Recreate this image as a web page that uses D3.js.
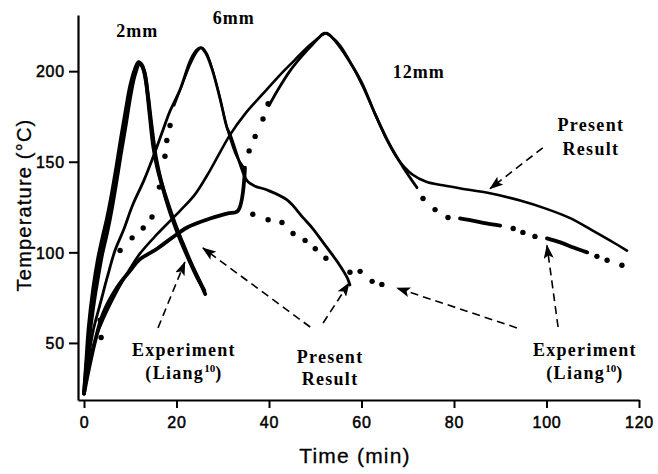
<!DOCTYPE html>
<html>
<head>
<meta charset="utf-8">
<script src="https://cdn.jsdelivr.net/npm/d3@7"></script>
<style>
  html, body { margin: 0; padding: 0; background: #fff; }
  svg { display: block; }
</style>
</head>
<body>
<svg id="chart" width="658" height="474"></svg>
<script>
// ---------------- data (time in min, temperature in °C) ----------------
const timeTicks = [0, 20, 40, 60, 80, 100, 120];
const tempTicks = [50, 100, 150, 200];

// 2 mm plate
const present2mm = [[0,22],[0.5,40],[1,58],[2,80],[3,96],[4,108],[5,119],[6,132],[7,147],[8,163],[9,178],[10,192],[11,201],[11.8,205],[12.6,203],[13.4,194],[14.2,176],[15,158],[16,145],[17.5,132],[19.5,117],[21.5,104],[23.5,92],[25,84],[26.2,77]];
const experiment2mm = [[0,22],[1,50],[2,70],[3,86],[4,100],[5,111],[6,124],[7,139],[8,155],[9,170],[10,186],[11,198],[12,204],[13,200],[13.8,187],[14.6,170],[15.5,153],[16.8,138],[18.5,123],[20.5,109],[22.5,97],[24.5,86],[26,79]];

// 6 mm plate
const present6mm = [[0,22],[1,42],[2,57],[3.7,73.5],[5,86],[6.7,101],[8.5,112],[10.5,126],[13,140],[15,153],[17,167],[18.6,178],[20.8,190],[23,206],[24.3,211.5],[25.2,213],[26.3,210],[27.7,201],[29.4,185],[30.9,169],[31.6,165],[33.7,149],[34.8,141.5],[35.5,138.8],[37,136.5],[39.6,134.4],[43.9,128.9],[47.4,119],[49.5,113],[52.5,102.7],[55,94],[56.9,86],[57.5,82]];
const experiment6mmLine = [[19.5,181],[21,191],[23,204],[24.5,211],[25.5,213],[26.5,210],[28,199],[29.5,184],[31,168],[33,153],[34.8,146]];
const experiment6mmDots = [[3.7,53],[3.5,62.6],[7.8,101],[10.4,108],[12.8,113.4],[14.7,119.5],[16.3,136],[17.5,153],[17.9,161.7],[18.6,170],
  [36.5,121],[39.8,118],[42.8,116.5],[45.2,110.4],[47.8,106.6],[50,102],[52.3,96.7],[57.5,89],[59.7,89.5],[62.3,84],[64.4,82.3]];

// 12 mm plate
const present12mm = [[0,22],[1,38],[3,56],[5.8,72],[9,87],[12,99],[15.8,110],[20.8,123],[24,132],[27.2,145],[31.6,165],[35,177],[38.5,187],[42.4,198],[45.5,206],[48.2,213],[50.5,218],[52,221],[53.5,219],[55.4,214],[58,203],[60.4,191],[63,176],[65.5,162],[68,151],[71,143],[74,139],[77.6,137],[82,135],[87,133],[94.3,128.6],[100,124],[105,119],[110,112],[113.7,106.6],[117.4,101]];
const experiment12mmRise = [[0,22],[1,35],[2.5,52],[4.1,66],[7,80],[10,90],[12,96],[15.8,102],[19,108],[22.3,113.7],[26.5,118],[30.9,121.4],[33.3,123],[34.8,146.7]];
const experiment12mmPeak = [[40,181],[42,190],[44.5,200],[47,208],[49.5,215],[51.5,220],[52.5,221],[54.5,216],[57,207],[60,194],[63,176],[66,160],[69,147],[72,135.7]];
const experiment12mmTail1 = [[81.3,118.7],[84,117.5],[87,116],[90,114.8]];
const experiment12mmTail2 = [[100.1,107.7],[103,105.5],[106,102.5],[108.8,100]];
const experiment12mmDots = [[35.7,156],[37,164],[38.7,173.6],[39.8,182],[73.3,129.7],[75.9,123.6],[78.7,119.2],[92.8,113.2],[94.9,111],[97.5,108.8],[110.9,97.8],[113.1,95.6],[116.3,92.9]];

// annotation labels: [text, time, temp]
const plateLabels = [["2mm", 11.5, 218.8], ["6mm", 32.4, 226], ["12mm", 72.4, 196.2]];
const noteLabels = [
  ["Present", 109.6, 167], ["Result", 109.6, 153.7],
  ["Experiment", 21.6, 42.8], ["(Liang", 21.6, 30.1, "10", ")"],
  ["Present", 53.2, 38.9], ["Result", 53.2, 26.8],
  ["Experiment", 108.3, 42.8], ["(Liang", 108.3, 30.1, "10", ")"]
];
// arrows: [fromTime, fromTemp, toTime, toTemp]
const arrows = [
  [99.2, 157.7, 87.8, 135.2],
  [102.5, 58.8, 100.1, 103.8],
  [93.6, 58.3, 67.7, 80.3],
  [48.9, 58.8, 25.7, 102.4],
  [51.7, 61, 57.3, 83],
  [16, 58.3, 21.8, 94.6]
];

// ---------------- drawing ----------------
const svg = d3.select("#chart");
svg.append("rect").attr("width", 658).attr("height", 474).attr("fill", "#fff");

const x = d3.scaleLinear().domain([-1.3, 120]).range([78, 639]);
const y = d3.scaleLinear().domain([18.5, 231]).range([400, 15]);

const line = d3.line().x(d => x(d[0])).y(d => y(d[1])).curve(d3.curveCatmullRom.alpha(0.5));

function drawLine(data, w) {
  svg.append("path").datum(data).attr("d", line)
    .attr("fill", "none").attr("stroke", "#000").attr("stroke-width", w)
    .attr("stroke-linejoin", "round").attr("stroke-linecap", "round");
}
function drawDots(data, r) {
  svg.append("g").selectAll("circle").data(data).join("circle")
    .attr("cx", d => x(d[0])).attr("cy", d => y(d[1])).attr("r", r).attr("fill", "#000");
}

drawLine(present2mm, 3.8);
drawLine(experiment2mm, 3.8);
drawLine(present6mm, 2.8);
drawLine(experiment6mmLine, 2.2);
drawDots(experiment6mmDots, 2.7);
drawLine(present12mm, 2.6);
drawLine(experiment12mmRise, 3.8);
drawLine(experiment12mmPeak, 2.8);
drawLine(experiment12mmTail1, 3.8);
drawLine(experiment12mmTail2, 3.8);
drawDots(experiment12mmDots, 2.7);

// axes
const xAxis = d3.axisBottom(x).tickValues(timeTicks).tickSize(8).tickSizeOuter(0).tickFormat(d3.format("d"));
const gx = svg.append("g").attr("transform", `translate(0,${y(18.5)})`).call(xAxis);
const yAxis = d3.axisLeft(y).tickValues(tempTicks).tickSize(9).tickSizeOuter(0).tickFormat(d3.format("d"));
const gy = svg.append("g").attr("transform", `translate(${x(-1.3)},0)`).call(yAxis);

[gx, gy].forEach(g => {
  g.select(".domain").attr("stroke", "#000").attr("stroke-width", 2.2);
  g.selectAll(".tick line").attr("stroke", "#000").attr("stroke-width", 2);
  g.selectAll(".tick text").attr("fill", "#000")
    .style("font-family", "'Liberation Sans', Arial, sans-serif")
    .style("font-size", "16px").style("letter-spacing", "0.8px")
    .attr("stroke", "#000").attr("stroke-width", 0.5);
});
gx.selectAll(".tick text").attr("dy", "1.05em");
gy.selectAll(".tick text").attr("dx", "-1px").attr("dy", "0.36em");

// axis titles
svg.append("text").attr("x", 355).attr("y", 463).attr("text-anchor", "middle")
  .style("font-family", "'Liberation Sans', Arial, sans-serif").style("font-size", "21px")
  .style("letter-spacing", "1.2px").attr("fill", "#000").attr("stroke", "#000").attr("stroke-width", 0.3)
  .text("Time (min)");
svg.append("text").attr("transform", "translate(31,205) rotate(-90)").attr("text-anchor", "middle")
  .style("font-family", "'Liberation Sans', Arial, sans-serif").style("font-size", "20px")
  .style("letter-spacing", "1.2px").attr("fill", "#000").attr("stroke", "#000").attr("stroke-width", 0.3)
  .text("Temperature (°C)");

// labels
const serif = "'Liberation Serif', 'Times New Roman', serif";
svg.append("g").selectAll("text").data(plateLabels).join("text")
  .attr("x", d => x(d[1])).attr("y", d => y(d[2])).attr("text-anchor", "middle")
  .style("font-family", serif).style("font-weight", "bold").style("font-size", "18px")
  .style("letter-spacing", "1px").attr("fill", "#000").text(d => d[0]);

const notes = svg.append("g").selectAll("text").data(noteLabels).join("text")
  .attr("x", d => x(d[1])).attr("y", d => y(d[2])).attr("text-anchor", "middle")
  .style("font-family", serif).style("font-weight", "bold").style("font-size", "18px")
  .style("letter-spacing", "1.3px").attr("fill", "#000");
notes.each(function(d) {
  const t = d3.select(this);
  t.append("tspan").text(d[0]);
  if (d[3]) {
    t.append("tspan").attr("dy", -7).style("font-size", "11px").style("letter-spacing", "0px").text(d[3]);
    t.append("tspan").attr("dy", 7).text(d[4]);
  }
});

// arrows
const defs = svg.append("defs");
defs.append("marker").attr("id", "ah").attr("markerUnits", "userSpaceOnUse")
  .attr("markerWidth", 14).attr("markerHeight", 10).attr("refX", 13).attr("refY", 5)
  .attr("orient", "auto")
  .append("path").attr("d", "M0,0 L14,5 L0,10 L3,5 Z").attr("fill", "#000");

svg.append("g").selectAll("line").data(arrows).join("line")
  .attr("x1", d => x(d[0])).attr("y1", d => y(d[1]))
  .attr("x2", d => x(d[2])).attr("y2", d => y(d[3]))
  .attr("stroke", "#000").attr("stroke-width", 1.6).attr("stroke-dasharray", "8,5")
  .attr("marker-end", "url(#ah)");
</script>
</body>
</html>
